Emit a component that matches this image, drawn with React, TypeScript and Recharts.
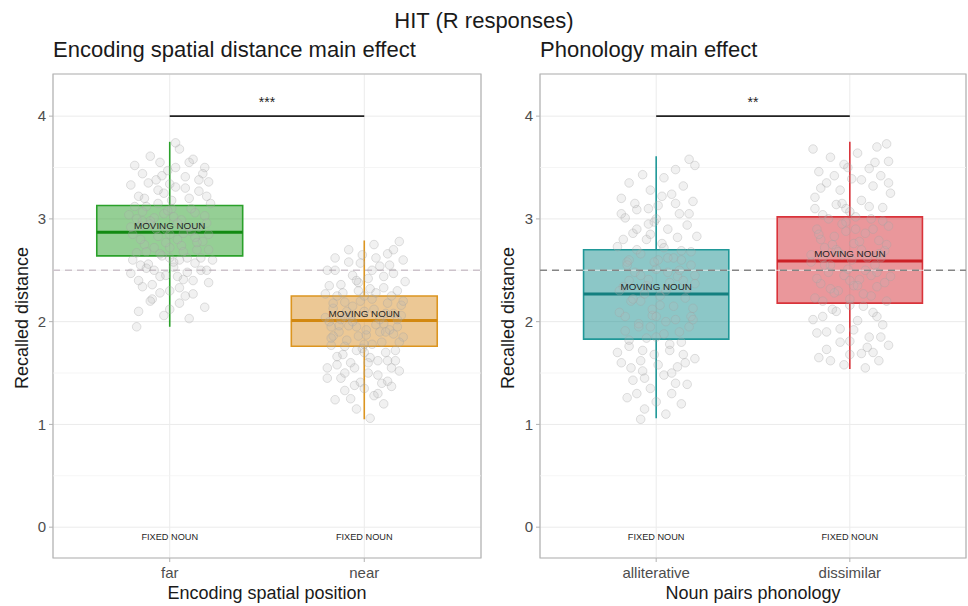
import React from "react";
import {
  ComposedChart,
  XAxis,
  YAxis,
  CartesianGrid,
  Scatter,
  ReferenceArea,
  ReferenceLine,
} from "recharts";

// ---- data ----
const spatialCats = ["far", "near"];
const spatialQ1 = [2.64, 1.76];
const spatialMed = [2.87, 2.01];
const spatialQ3 = [3.13, 2.25];
const spatialLo = [1.95, 1.05];
const spatialHi = [3.75, 2.79];

const phonCats = ["alliterative", "dissimilar"];
const phonQ1 = [1.83, 2.18];
const phonMed = [2.27, 2.59];
const phonQ3 = [2.7, 3.02];
const phonLo = [1.06, 1.54];
const phonHi = [3.61, 3.75];

const chance = 2.5;
const sigY = 4;
const spatialSig = "***";
const phonSig = "**";

const yTicks = [0, 1, 2, 3, 4];
const minorTicks = [0.5, 1.5, 2.5, 3.5];

// jittered responses [x, recalled distance]
const farPts = [
  [0.82, 3.52], [0.9, 3.61], [1.05, 3.68], [0.95, 3.55], [1.12, 3.58], [1.18, 3.5], [0.86, 3.44], [0.99, 3.47],
  [1.08, 3.41], [1.2, 3.36], [0.8, 3.33], [0.93, 3.38], [1.03, 3.31], [1.15, 3.27], [0.84, 3.22], [0.97, 3.25],
  [1.1, 3.2], [1.21, 3.15], [0.88, 3.12], [1.01, 3.1], [1.13, 3.06], [0.79, 3.04], [0.92, 3.01], [1.06, 2.99],
  [1.19, 2.96], [0.85, 2.93], [0.98, 2.9], [1.11, 2.88], [0.81, 2.85], [0.94, 2.83], [1.04, 2.8], [1.17, 2.78],
  [0.87, 2.75], [1.0, 2.72], [1.14, 2.7], [0.83, 2.67], [0.96, 2.64], [1.09, 2.62], [1.22, 2.6], [0.89, 2.56],
  [1.02, 2.53], [1.16, 2.5], [0.8, 2.47], [0.95, 2.44], [1.07, 2.41], [1.2, 2.38], [0.86, 2.34], [1.0, 2.3],
  [1.12, 2.27], [0.91, 2.22], [1.05, 2.18], [1.18, 2.14], [0.84, 2.1], [0.97, 2.06], [1.1, 2.03], [0.83, 1.95],
  [1.03, 3.74], [0.9, 2.98], [1.07, 2.86], [0.94, 3.15], [1.15, 2.92], [0.88, 2.68], [1.02, 3.02], [0.98, 2.77],
  [1.13, 2.57], [0.86, 3.07], [1.19, 3.22], [0.92, 2.5], [1.05, 2.6], [1.0, 3.34],
  [0.83, 3.0], [0.9, 2.95], [0.97, 3.05], [1.04, 2.96], [1.11, 3.1], [1.18, 3.03], [0.85, 2.8], [0.92, 2.72],
  [1.0, 2.85], [1.06, 2.74], [1.13, 2.82], [1.2, 2.7], [0.81, 2.6], [0.88, 2.52], [0.95, 2.66], [1.02, 2.58],
  [1.09, 2.48], [1.16, 2.62], [0.84, 2.4], [0.91, 2.36], [0.98, 2.45], [1.05, 2.33], [1.12, 2.4], [1.19, 2.5],
  [0.87, 3.2], [0.94, 3.28], [1.01, 3.18], [1.08, 3.3], [1.15, 3.38], [0.82, 3.12], [0.89, 3.35], [0.96, 3.42],
  [1.03, 3.5], [1.1, 3.55], [1.17, 3.44], [0.86, 2.98], [0.93, 2.9], [1.0, 2.62], [1.07, 2.68], [1.14, 2.77],
  [0.8, 2.92], [0.9, 2.2], [1.0, 2.12], [1.08, 2.25], [0.95, 2.28], [1.2, 2.85], [0.85, 2.55], [1.1, 2.92],
  [0.99, 3.08], [1.04, 2.44],
];
const nearPts = [
  [2.18, 2.78], [2.05, 2.75], [1.92, 2.7], [2.12, 2.66], [1.85, 2.62], [2.2, 2.6], [1.98, 2.57], [2.08, 2.54],
  [1.81, 2.5], [2.15, 2.47], [1.94, 2.45], [2.02, 2.42], [2.21, 2.39], [1.88, 2.36], [2.1, 2.33], [1.97, 2.3],
  [1.8, 2.27], [2.14, 2.25], [2.04, 2.22], [1.9, 2.19], [2.19, 2.16], [1.84, 2.13], [2.0, 2.1], [2.11, 2.08],
  [1.93, 2.05], [2.17, 2.02], [1.82, 2.0], [2.06, 1.97], [1.96, 1.95], [2.13, 1.92], [1.87, 1.9], [2.01, 1.87],
  [2.2, 1.85], [1.91, 1.82], [2.09, 1.8], [1.83, 1.77], [1.99, 1.74], [2.16, 1.72], [1.89, 1.68], [2.03, 1.65],
  [2.12, 1.62], [1.86, 1.58], [1.95, 1.55], [2.18, 1.52], [2.07, 1.48], [1.81, 1.45], [1.98, 1.41], [2.14, 1.37],
  [1.9, 1.33], [2.05, 1.28], [1.85, 1.24], [2.1, 1.2], [1.96, 1.15], [2.03, 1.06], [1.94, 2.15], [2.08, 1.9],
  [1.88, 2.02], [2.15, 2.08], [2.0, 1.78], [1.92, 1.96], [2.06, 2.28], [1.84, 1.86], [2.11, 1.7], [1.97, 2.38],
  [2.02, 1.6], [1.9, 1.5], [2.17, 1.95], [2.04, 2.5], [1.86, 2.25], [2.12, 1.42],
  [1.82, 2.35], [1.89, 2.28], [1.96, 2.4], [2.03, 2.32], [2.1, 2.44], [2.17, 2.3], [1.84, 2.18], [1.91, 2.1],
  [1.98, 2.2], [2.05, 2.12], [2.12, 2.18], [2.19, 2.06], [1.8, 2.04], [1.87, 1.96], [1.94, 2.0], [2.01, 1.92],
  [2.08, 2.02], [2.15, 1.88], [1.83, 1.84], [1.9, 1.76], [1.97, 1.86], [2.04, 1.78], [2.11, 1.9], [2.18, 1.8],
  [1.86, 1.66], [1.93, 1.6], [2.0, 1.7], [2.07, 1.62], [2.14, 1.55], [1.81, 1.55], [1.88, 1.45], [1.95, 1.38],
  [2.02, 1.5], [2.09, 1.4], [2.16, 1.62], [1.85, 2.5], [1.92, 2.58], [1.99, 2.65], [2.06, 2.62], [2.13, 2.55],
  [1.9, 2.05], [2.0, 2.25], [2.1, 1.98], [1.96, 1.72], [2.2, 2.2], [1.83, 1.95], [2.07, 1.3], [1.93, 1.25],
  [2.15, 2.7], [2.0, 1.35],
];
const allitPts = [
  [1.17, 3.58], [1.2, 3.52], [1.1, 3.48], [0.93, 3.43], [1.04, 3.4], [0.86, 3.35], [1.14, 3.32], [0.97, 3.28],
  [1.08, 3.24], [0.82, 3.2], [1.19, 3.17], [1.01, 3.13], [0.9, 3.09], [1.12, 3.05], [0.84, 3.01], [0.99, 2.97],
  [1.16, 2.94], [1.06, 2.9], [0.88, 2.86], [1.21, 2.83], [0.95, 2.8], [1.03, 2.76], [0.8, 2.73], [1.13, 2.69],
  [0.92, 2.66], [1.09, 2.62], [0.85, 2.58], [1.18, 2.55], [1.0, 2.51], [0.89, 2.48], [1.11, 2.44], [0.96, 2.41],
  [1.2, 2.37], [0.83, 2.34], [1.05, 2.3], [0.94, 2.27], [1.15, 2.23], [0.87, 2.2], [1.02, 2.16], [1.19, 2.13],
  [0.81, 2.09], [0.98, 2.06], [1.1, 2.02], [0.91, 1.98], [1.17, 1.95], [0.84, 1.91], [1.04, 1.88], [0.95, 1.84],
  [1.13, 1.8], [0.86, 1.76], [1.07, 1.72], [0.99, 1.68], [1.2, 1.64], [0.82, 1.6], [1.11, 1.56], [0.93, 1.52],
  [1.04, 1.48], [0.88, 1.43], [1.16, 1.39], [0.97, 1.35], [1.08, 1.3], [0.85, 1.26], [1.13, 1.2], [0.94, 1.15],
  [1.05, 1.1], [0.92, 1.05], [1.01, 2.6], [0.9, 2.9], [1.12, 2.5], [0.97, 1.95], [1.07, 2.38], [0.86, 2.6],
  [1.18, 2.05], [1.0, 3.0], [0.92, 2.2],
  [0.83, 2.8], [0.9, 2.7], [0.97, 2.85], [1.04, 2.72], [1.11, 2.82], [1.18, 2.68], [0.85, 2.55], [0.92, 2.45],
  [0.99, 2.58], [1.06, 2.48], [1.13, 2.6], [1.2, 2.45], [0.81, 2.3], [0.88, 2.22], [0.95, 2.35], [1.02, 2.25],
  [1.09, 2.15], [1.16, 2.32], [0.84, 2.05], [0.91, 1.95], [0.98, 2.12], [1.05, 2.0], [1.12, 1.9], [1.19, 2.02],
  [0.86, 1.82], [0.93, 1.72], [1.0, 1.85], [1.07, 1.78], [1.14, 1.68], [0.8, 1.7], [0.87, 1.55], [0.94, 1.45],
  [1.01, 1.58], [1.08, 1.5], [1.15, 1.6], [0.82, 3.05], [0.89, 3.15], [0.96, 3.1], [1.03, 3.22], [1.1, 3.15],
  [1.17, 3.05], [0.9, 1.3], [1.0, 1.22], [1.1, 1.4], [0.96, 2.95], [1.06, 2.62], [0.86, 2.4], [1.14, 2.4],
  [1.0, 2.05], [0.92, 1.62],
];
const dissimPts = [
  [2.19, 3.73], [1.81, 3.68], [2.14, 3.7], [2.04, 3.64], [1.9, 3.6], [2.2, 3.56], [1.97, 3.53], [2.1, 3.49],
  [1.84, 3.46], [2.16, 3.42], [2.01, 3.39], [1.88, 3.35], [2.12, 3.32], [1.95, 3.28], [2.21, 3.25], [1.82, 3.21],
  [2.06, 3.18], [1.93, 3.14], [2.17, 3.11], [2.0, 3.07], [1.86, 3.04], [2.11, 3.0], [1.98, 2.97], [2.2, 2.93],
  [1.83, 2.9], [2.08, 2.86], [1.92, 2.83], [2.15, 2.79], [2.02, 2.76], [1.87, 2.72], [2.18, 2.69], [1.96, 2.65],
  [2.09, 2.62], [1.8, 2.58], [2.13, 2.55], [1.99, 2.51], [1.89, 2.48], [2.21, 2.44], [2.05, 2.41], [1.85, 2.37],
  [2.14, 2.34], [1.94, 2.3], [2.07, 2.27], [1.82, 2.23], [2.19, 2.2], [2.0, 2.16], [1.91, 2.12], [2.12, 2.09],
  [1.86, 2.05], [2.04, 2.01], [2.17, 1.97], [1.95, 1.93], [1.83, 1.89], [2.1, 1.85], [2.0, 1.81], [2.2, 1.77],
  [1.88, 1.73], [2.06, 1.69], [1.84, 1.65], [2.15, 1.62], [1.97, 1.58], [2.08, 1.55], [1.93, 2.7], [2.03, 2.9],
  [1.9, 2.55], [2.11, 2.45], [1.98, 3.1], [2.16, 2.62], [1.85, 2.8], [2.02, 2.35],
  [1.82, 3.1], [1.89, 3.0], [1.96, 3.15], [2.03, 3.02], [2.1, 3.12], [2.17, 2.98], [1.84, 2.85], [1.91, 2.75],
  [1.98, 2.88], [2.05, 2.78], [2.12, 2.9], [2.19, 2.75], [1.8, 2.65], [1.87, 2.55], [1.94, 2.68], [2.01, 2.6],
  [2.08, 2.5], [2.15, 2.66], [1.83, 2.42], [1.9, 2.32], [1.97, 2.45], [2.04, 2.35], [2.11, 2.25], [2.18, 2.38],
  [1.86, 2.2], [1.93, 2.1], [2.0, 2.22], [2.07, 2.15], [2.14, 2.05], [1.81, 2.02], [1.88, 1.9], [1.95, 1.8],
  [2.02, 1.92], [2.09, 1.75], [2.16, 1.85], [1.85, 3.3], [1.92, 3.42], [1.99, 3.5], [2.06, 3.38], [2.13, 3.55],
  [2.2, 3.35], [1.9, 1.62], [2.0, 1.68], [2.12, 1.7], [1.96, 2.95], [2.06, 2.7], [1.86, 2.62], [2.14, 2.48],
  [2.0, 2.4], [1.92, 2.28],
];

// ---- styling ----
const FONT = "'Liberation Sans', Arial, sans-serif";
const BOX_HALF = 0.375;
const LABEL_LIFT = 0.07;
const FIXED_Y = -0.1;
const SIG_LIFT = 0.14;

const toXY = (pts: number[][]) => pts.map(([x, y]) => ({ x, y }));

const Dot = (p: any) => (
  <circle cx={p.cx} cy={p.cy} r={4.3} fill="#b8b8b8" fillOpacity={0.2} stroke="#a3a3a3" strokeOpacity={0.32} strokeWidth={1} />
);

const Txt = (p: any) => (
  <text
    x={p.cx}
    y={p.cy}
    textAnchor="middle"
    dominantBaseline="central"
    fontSize={p.payload.size}
    fill="#1f1f1f"
    fontFamily={FONT}
  >
    {p.payload.text}
  </text>
);

interface PanelProps {
  left: number;
  width: number;
  yAxisWidth: number;
  cats: string[];
  q1: number[];
  med: number[];
  q3: number[];
  lo: number[];
  hi: number[];
  clouds: number[][][];
  fills: string[];
  strokes: string[];
  medians: string[];
  sig: string;
  chanceColor: string;
}

function Panel(props: PanelProps) {
  const { cats, q1, med, q3, lo, hi } = props;
  const labels = [
    ...cats.map((_, i) => ({ x: i + 1, y: med[i] + LABEL_LIFT, text: "MOVING NOUN", size: 9.8 })),
    ...cats.map((_, i) => ({ x: i + 1, y: FIXED_Y, text: "FIXED NOUN", size: 9.2 })),
    { x: 1.5, y: sigY + SIG_LIFT, text: props.sig, size: 14 },
  ];
  return (
    <div style={{ position: "absolute", left: props.left, top: 0 }}>
      <ComposedChart
        width={props.width}
        height={606}
        margin={{ top: 74, right: props.left === 0 ? 9 : 2, bottom: 0, left: 0 }}
      >
        <CartesianGrid stroke="#ebebeb" strokeWidth={1} />
        {minorTicks.map((v) => (
          <ReferenceLine key={v} y={v} stroke="#f3f3f3" strokeWidth={0.8} />
        ))}
        <XAxis
          type="number"
          dataKey="x"
          domain={[0.4, 2.6]}
          ticks={[1, 2]}
          allowDataOverflow
          tickFormatter={(v) => cats[v - 1] ?? ""}
          axisLine={false}
          tickLine={{ stroke: "#b3b3b3" }}
          tickSize={4}
          tickMargin={5}
          height={48}
          tick={{ fill: "#4d4d4d", fontSize: 15, fontFamily: FONT }}
        />
        <YAxis
          type="number"
          dataKey="y"
          domain={[-0.3, 4.41]}
          ticks={yTicks}
          allowDataOverflow
          axisLine={false}
          tickLine={{ stroke: "#b3b3b3" }}
          tickSize={4}
          tickMargin={3}
          width={props.yAxisWidth}
          tick={{ fill: "#4d4d4d", fontSize: 15, fontFamily: FONT }}
        />
        {props.clouds.map((c, i) => (
          <Scatter key={"c" + i} data={toXY(c)} shape={Dot} isAnimationActive={false} />
        ))}
        {cats.map((_, i) => (
          <ReferenceArea
            key={"b" + i}
            x1={i + 1 - BOX_HALF}
            x2={i + 1 + BOX_HALF}
            y1={q1[i]}
            y2={q3[i]}
            fill={props.fills[i]}
            fillOpacity={0.5}
            stroke={props.strokes[i]}
            strokeWidth={1.6}
            ifOverflow="visible"
          />
        ))}
        {cats.map((_, i) => (
          <ReferenceLine
            key={"wu" + i}
            segment={[{ x: i + 1, y: q3[i] }, { x: i + 1, y: hi[i] }]}
            stroke={props.strokes[i]}
            strokeWidth={1.6}
          />
        ))}
        {cats.map((_, i) => (
          <ReferenceLine
            key={"wl" + i}
            segment={[{ x: i + 1, y: lo[i] }, { x: i + 1, y: q1[i] }]}
            stroke={props.strokes[i]}
            strokeWidth={1.6}
          />
        ))}
        {cats.map((_, i) => (
          <ReferenceLine
            key={"m" + i}
            segment={[{ x: i + 1 - BOX_HALF, y: med[i] }, { x: i + 1 + BOX_HALF, y: med[i] }]}
            stroke={props.medians[i]}
            strokeWidth={3}
          />
        ))}
        <ReferenceLine y={chance} stroke={props.chanceColor} strokeWidth={1.5} strokeDasharray="7 5" />
        <ReferenceLine
          segment={[{ x: 1, y: sigY }, { x: 2, y: sigY }]}
          stroke="#222222"
          strokeWidth={1.6}
        />
        <ReferenceArea
          x1={0.4}
          x2={2.6}
          y1={-0.3}
          y2={4.41}
          fill="none"
          stroke="#b3b3b3"
          strokeWidth={1.2}
          ifOverflow="visible"
        />
        <Scatter data={labels} shape={Txt} isAnimationActive={false} />
      </ComposedChart>
    </div>
  );
}

export default function App() {
  return (
    <div
      style={{
        position: "absolute",
        left: 0,
        top: 0,
        width: 968,
        height: 606,
        background: "#ffffff",
        fontFamily: FONT,
        overflow: "hidden",
      }}
    >
      <Panel
        left={0}
        width={490}
        yAxisWidth={53}
        cats={spatialCats}
        q1={spatialQ1}
        med={spatialMed}
        q3={spatialQ3}
        lo={spatialLo}
        hi={spatialHi}
        clouds={[farPts, nearPts]}
        fills={["#2ca02c", "#d9912b"]}
        strokes={["#2aa12a", "#dc9520"]}
        medians={["#128a12", "#d28810"]}
        sig={spatialSig}
        chanceColor="#cdc3cb"
      />
      <Panel
        left={486}
        width={482}
        yAxisWidth={54}
        cats={phonCats}
        q1={phonQ1}
        med={phonMed}
        q3={phonQ3}
        lo={phonLo}
        hi={phonHi}
        clouds={[allitPts, dissimPts]}
        fills={["#1a9090", "#d62f37"]}
        strokes={["#1f9898", "#d9333a"]}
        medians={["#137f7f", "#cc2026"]}
        sig={phonSig}
        chanceColor="#858585"
      />
      <svg
        width={968}
        height={606}
        style={{ position: "absolute", left: 0, top: 0, pointerEvents: "none" }}
        fontFamily={FONT}
      >
        <text x={484} y={28} textAnchor="middle" fontSize={22} fill="#1a1a1a">
          HIT (R responses)
        </text>
        <text x={53} y={57} fontSize={22} fill="#1a1a1a">
          Encoding spatial distance main effect
        </text>
        <text x={540} y={57} fontSize={22} fill="#1a1a1a">
          Phonology main effect
        </text>
        <text x={267} y={599} textAnchor="middle" fontSize={18} fill="#1a1a1a">
          Encoding spatial position
        </text>
        <text x={753} y={599} textAnchor="middle" fontSize={18} fill="#1a1a1a">
          Noun pairs phonology
        </text>
        <text
          x={0}
          y={0}
          transform="translate(28,318) rotate(-90)"
          textAnchor="middle"
          fontSize={18}
          fill="#1a1a1a"
        >
          Recalled distance
        </text>
        <text
          x={0}
          y={0}
          transform="translate(514,318) rotate(-90)"
          textAnchor="middle"
          fontSize={18}
          fill="#1a1a1a"
        >
          Recalled distance
        </text>
      </svg>
    </div>
  );
}
